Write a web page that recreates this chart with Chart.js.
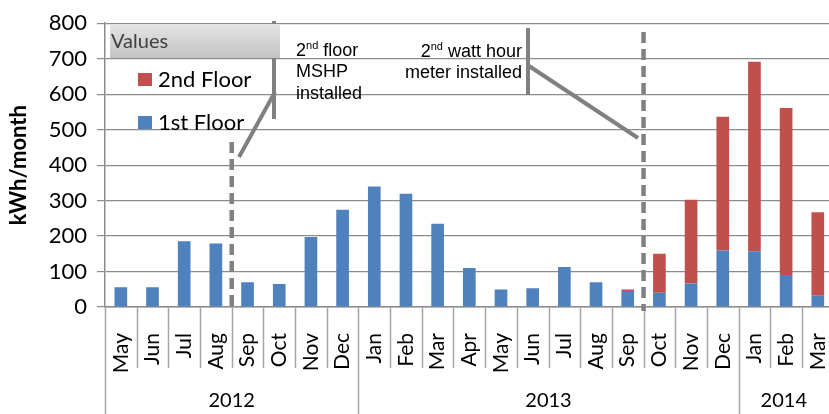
<!DOCTYPE html>
<html>
<head>
<meta charset="utf-8">
<script src="https://cdn.jsdelivr.net/npm/chart.js@4"></script>
<style>
  html, body { margin: 0; padding: 0; overflow: hidden; background: #fff; }
  #wrap { width: 870px; height: 414px; }
</style>
</head>
<body>
<div id="wrap"><canvas id="energy-chart" width="861" height="414"></canvas></div>
<script>
const months = [
    'May', 'Jun', 'Jul', 'Aug', 'Sep', 'Oct', 'Nov', 'Dec',
    'Jan', 'Feb', 'Mar', 'Apr', 'May', 'Jun', 'Jul', 'Aug', 'Sep', 'Oct', 'Nov', 'Dec',
    'Jan', 'Feb', 'Mar',
];
const years = [
    { label: '2012', from: 0, to: 7 },
    { label: '2013', from: 8, to: 19 },
    { label: '2014', from: 20, to: 22 },
];
const firstFloor = [56, 56, 185, 179, 70, 65, 197, 274, 340, 319, 235, 110, 49, 53, 113, 70, 45, 40, 66, 159, 157, 90, 32];
const secondFloor = [0, 0, 0, 0, 0, 0, 0, 0, 0, 0, 0, 0, 0, 0, 0, 0, 4, 110, 236, 377, 534, 471, 235];
const yTicks = [0, 100, 200, 300, 400, 500, 600, 700, 800];

const blue = '#4F81BD';
const red = '#C0504D';
const lineGray = '#808080';

// month index after which each event line is drawn
const mshpAfter = 3;
const meterAfter = 16;

const extrasPlugin = {
    id: 'extras',
    afterDraw(chart) {
        const ctx = chart.ctx;
        const x = chart.scales.x;
        const y = chart.scales.y;
        const area = chart.chartArea;
        const step = x.getPixelForValue(1) - x.getPixelForValue(0);
        const edge = i => x.getPixelForValue(i) - step / 2;

        ctx.save();
        // category separators under the axis
        ctx.strokeStyle = '#a6a6a6';
        ctx.lineWidth = 1.5;
        for (let i = 0; i <= months.length; i++) {
            const px = Math.round(edge(i)) + 0.5;
            const isYear = years.some(g => g.from === i);
            ctx.beginPath();
            ctx.moveTo(px, area.bottom);
            ctx.lineTo(px, isYear ? 414 : area.bottom + 61);
            ctx.stroke();
        }
        // year labels (the last group is cut by the window edge)
        ctx.fillStyle = '#000';
        ctx.font = '20px Lato';
        ctx.textAlign = 'center';
        ctx.textBaseline = 'middle';
        years.forEach(g => {
            const cx = (edge(g.from) + Math.min(edge(g.to + 1), 829)) / 2;
            ctx.fillText(g.label, cx, 401);
        });

        // dashed event lines
        ctx.strokeStyle = lineGray;
        ctx.lineWidth = 4.5;
        ctx.setLineDash([11, 6]);
        const x1 = edge(mshpAfter + 1);
        const x2 = edge(meterAfter + 1);
        ctx.beginPath();
        ctx.moveTo(x1, y.getPixelForValue(465));
        ctx.lineTo(x1, area.bottom);
        ctx.moveTo(x2, y.getPixelForValue(775));
        ctx.lineTo(x2, area.bottom + 4);
        ctx.stroke();
        ctx.setLineDash([]);

        // callout brackets and leaders
        ctx.lineWidth = 4;
        ctx.beginPath();
        ctx.moveTo(274, 21);
        ctx.lineTo(274, 119);
        ctx.moveTo(275, 92);
        ctx.lineTo(239, 157);
        ctx.moveTo(528, 28);
        ctx.lineTo(528, 95);
        ctx.moveTo(529, 66);
        ctx.lineTo(638, 138);
        ctx.stroke();

        // callout texts
        ctx.fillStyle = '#000';
        ctx.textBaseline = 'alphabetic';
        ctx.textAlign = 'left';
        const sup = (left, base, pre, small, rest) => {
            ctx.font = '18px "Liberation Sans"';
            ctx.fillText(pre, left, base);
            let cx = left + ctx.measureText(pre).width;
            ctx.font = '11px "Liberation Sans"';
            ctx.fillText(small, cx, base - 7);
            cx += ctx.measureText(small).width;
            ctx.font = '18px "Liberation Sans"';
            ctx.fillText(rest, cx, base);
        };
        sup(296, 56, '2', 'nd', ' floor');
        ctx.font = '18px "Liberation Sans"';
        ctx.fillText('MSHP', 296, 77);
        ctx.fillText('installed', 296, 99);

        ctx.font = '18px "Liberation Sans"';
        const w1 = ctx.measureText('2').width + ctx.measureText(' watt hour').width;
        ctx.font = '11px "Liberation Sans"';
        const w2 = ctx.measureText('nd').width;
        sup(522 - w1 - w2, 57, '2', 'nd', ' watt hour');
        ctx.font = '18px "Liberation Sans"';
        ctx.textAlign = 'right';
        ctx.fillText('meter installed', 522, 78);

        // legend box
        const grad = ctx.createLinearGradient(0, 24, 0, 58);
        grad.addColorStop(0, '#e4e4e4');
        grad.addColorStop(1, '#c4c4c4');
        ctx.fillStyle = grad;
        ctx.fillRect(110, 24, 170, 34);
        ctx.fillStyle = '#404040';
        ctx.textAlign = 'left';
        ctx.textBaseline = 'middle';
        ctx.font = '20px Lato';
        ctx.fillText('Values', 111, 42);
        const items = [
            { text: '2nd Floor', color: red, cy: 80 },
            { text: '1st Floor', color: blue, cy: 123 },
        ];
        ctx.font = '22px Lato';
        items.forEach(it => {
            ctx.fillStyle = it.color;
            ctx.fillRect(138, it.cy - 7, 14, 13);
            ctx.fillStyle = '#000';
            ctx.fillText(it.text, 158, it.cy);
        });
        ctx.restore();
    }
};

const energyConfig = {
    type: 'bar',
    data: {
        labels: months,
        datasets: [
            {
                label: '1st Floor',
                data: firstFloor,
                backgroundColor: blue,
                barPercentage: 0.4,
                categoryPercentage: 1,
            },
            {
                label: '2nd Floor',
                data: secondFloor,
                backgroundColor: red,
                barPercentage: 0.4,
                categoryPercentage: 1,
            },
        ]
    },
    options: {
        responsive: false,
        animation: false,
        layout: { padding: { top: 18, right: 0, left: 0, bottom: 0 } },
        plugins: {
            legend: { display: false },
            tooltip: { enabled: false },
        },
        scales: {
            x: {
                stacked: true,
                grid: { display: false },
                border: { display: true, color: '#8c8c8c', width: 1.5 },
                ticks: {
                    color: '#000',
                    font: { family: 'Lato', size: 21 },
                    minRotation: 90,
                    maxRotation: 90,
                    autoSkip: false,
                    padding: 18,
                },
                afterFit: s => { s.height = 107; },
            },
            y: {
                stacked: true,
                min: 0,
                max: 800,
                afterBuildTicks: s => { s.ticks = yTicks.map(v => ({ value: v })); },
                grid: { color: '#8c8c8c', lineWidth: 1.2, tickLength: 8 },
                border: { color: '#8c8c8c', width: 1.5 },
                ticks: {
                    color: '#000',
                    font: { family: 'Lato', size: 22 },
                    padding: 10,
                },
                title: {
                    display: true,
                    text: 'kWh/month',
                    color: '#000',
                    font: { family: 'Lato', size: 22, weight: 'bold' },
                    padding: { top: 6, bottom: 0 },
                },
                afterFit: s => { s.width = 105; },
            }
        }
    },
    plugins: [extrasPlugin]
};

const energyChart = new Chart(document.getElementById('energy-chart'), energyConfig);
</script>
</body>
</html>
